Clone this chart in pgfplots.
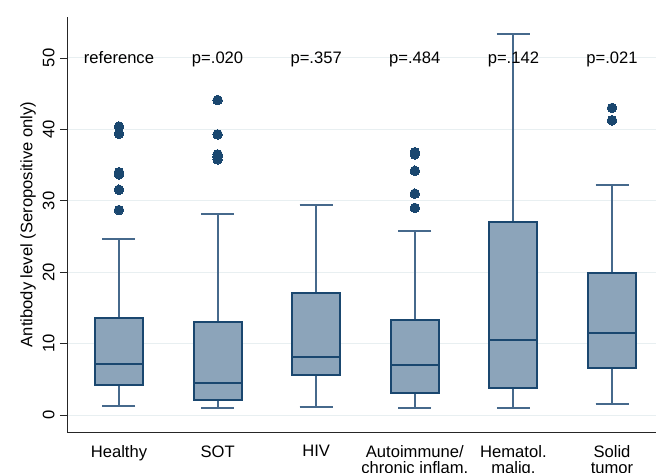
\documentclass[border=0pt]{standalone}
\usepackage{fontspec}
\setmainfont{Liberation Sans}
\usepackage{pgfplots}
\pgfplotsset{compat=1.18}
\usepgfplotslibrary{statistics}

\definecolor{navy}{HTML}{1A476F}
\definecolor{whisk}{HTML}{46698C}
\definecolor{boxfill}{HTML}{8CA4BA}
\definecolor{gridc}{HTML}{E8EFF1}

\newcommand{\lblfont}{\fontsize{16.6bp}{16bp}\selectfont}

\begin{document}
\begin{tikzpicture}
\path[use as bounding box] (-67bp,-41bp) rectangle (589bp,432bp);
\begin{axis}[
  at={(0,0)}, anchor=south west,
  scale only axis, width=589bp, height=415bp,
  xmin=0.473, xmax=6.446, ymin=-2.38, ymax=55.74,
  axis x line*=bottom, axis y line*=left,
  axis line style={-, black!85, line width=0.9bp},
  xtick={1,...,6},
  xticklabels={Healthy, SOT, HIV, {Autoimmune/\\chronic inflam.}, {Hematol.\\malig.}, {Solid\\tumor}},
  xtick style={draw=none},
  xticklabel style={align=center, anchor=north, font=\lblfont, yshift=-3bp},
  ytick={0,10,...,50},
  ytick style={black!85, line width=0.9bp},
  tick align=outside, major tick length=7bp,
  yticklabel style={rotate=90, anchor=south, font=\lblfont, yshift=2bp},
  /pgf/number format/assume math mode=true,
  ymajorgrids, grid style={gridc, line width=1bp},
  ylabel={Antibody level (Seropositive only)},
  ylabel style={at={(axis description cs:-0.0662,0.5)}, anchor=center, font=\lblfont},
  boxplot/draw direction=y,
  boxplot/box extend=0.487,
  boxplot/whisker extend=0.335,
  clip=false,
]
\pgfplotsset{
  mybox/.style={draw=navy, fill=boxfill, solid, line width=1.8bp,
    mark=*, mark size=4.8bp, mark options={fill=navy, draw=navy, line width=0pt},
    boxplot/every whisker/.style={draw=whisk, line width=2bp},
    boxplot/every median/.style={draw=navy, line width=1.9bp},
    boxplot/every box/.style={draw=navy, fill=boxfill, line width=1.9bp}},
}
% Healthy
\addplot[mybox, boxplot prepared={draw position=1, lower whisker=1.26, lower quartile=4.2, median=7.2, upper quartile=13.6, upper whisker=24.7}]
  table[row sep=\\, y index=0] {40.4\\ 39.4\\ 34.0\\ 33.7\\ 31.55\\ 28.7\\};
% SOT
\addplot[mybox, boxplot prepared={draw position=2, lower whisker=1.03, lower quartile=2.15, median=4.48, upper quartile=13.07, upper whisker=28.1}]
  table[row sep=\\, y index=0] {44.1\\ 39.3\\ 36.5\\ 36.2\\ 35.8\\};
% HIV
\addplot[mybox, boxplot prepared={draw position=3, lower whisker=1.17, lower quartile=5.55, median=8.1, upper quartile=17.1, upper whisker=29.45}]
  coordinates {};
% Autoimmune
\addplot[mybox, boxplot prepared={draw position=4, lower whisker=1.03, lower quartile=3.04, median=7.05, upper quartile=13.25, upper whisker=25.7}]
  table[row sep=\\, y index=0] {36.8\\ 36.5\\ 34.2\\ 31.0\\ 29.0\\};
% Hematol.
\addplot[mybox, boxplot prepared={draw position=5, lower whisker=0.98, lower quartile=3.78, median=10.55, upper quartile=27.07, upper whisker=53.4}]
  coordinates {};
% Solid tumor
\addplot[mybox, boxplot prepared={draw position=6, lower whisker=1.59, lower quartile=6.63, median=11.44, upper quartile=19.93, upper whisker=32.2}]
  table[row sep=\\, y index=0] {43.0\\ 41.27\\};
% p-values
\addplot[draw=none, mark=none, nodes near coords, point meta=explicit symbolic,
  nodes near coords style={anchor=base, yshift=-6bp, font=\lblfont, text=black, inner sep=0pt}]
  coordinates {(1,50) [reference] (2,50) [p=.020] (3,50) [p=.357] (4,50) [p=.484] (5,50) [p=.142] (6,50) [p=.021]};
\end{axis}
\end{tikzpicture}
\end{document}
